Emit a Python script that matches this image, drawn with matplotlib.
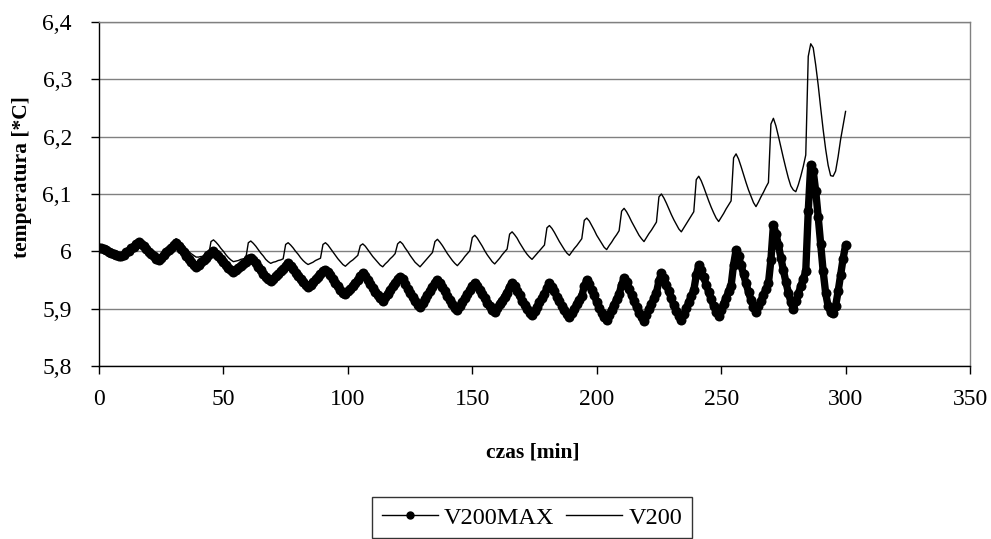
import matplotlib
matplotlib.use("Agg")
import matplotlib.pyplot as plt
from matplotlib.lines import Line2D
from matplotlib.ticker import FuncFormatter, MultipleLocator
import numpy as np

plt.rcParams['font.family'] = ['Liberation Serif', 'DejaVu Serif']

# time in minutes (one sample per minute)
czas = np.arange(0, 301, 1)

v200max = [
    6.006, 6.005, 6.004, 6.002, 5.999, 5.997, 5.995, 5.994, 5.992, 5.991, 5.994, 5.998, 6.001, 6.005, 6.008,
    6.013, 6.016, 6.013, 6.009, 6.004, 5.999, 5.995, 5.991, 5.987, 5.985, 5.989, 5.993, 5.998, 6.002, 6.006,
    6.011, 6.014, 6.010, 6.004, 5.998, 5.992, 5.986, 5.981, 5.976, 5.973, 5.977, 5.981, 5.985, 5.989, 5.993,
    5.997, 6.000, 5.996, 5.991, 5.986, 5.981, 5.976, 5.971, 5.967, 5.964, 5.968, 5.971, 5.975, 5.978, 5.982,
    5.986, 5.989, 5.985, 5.979, 5.973, 5.967, 5.961, 5.956, 5.951, 5.948, 5.952, 5.957, 5.961, 5.966, 5.970,
    5.975, 5.979, 5.975, 5.969, 5.963, 5.957, 5.951, 5.946, 5.941, 5.938, 5.942, 5.947, 5.951, 5.956, 5.960,
    5.965, 5.968, 5.964, 5.958, 5.951, 5.945, 5.939, 5.933, 5.928, 5.925, 5.930, 5.935, 5.940, 5.945, 5.950,
    5.957, 5.962, 5.957, 5.950, 5.943, 5.936, 5.929, 5.923, 5.918, 5.914, 5.920, 5.926, 5.933, 5.939, 5.945,
    5.952, 5.956, 5.951, 5.943, 5.935, 5.927, 5.920, 5.913, 5.907, 5.903, 5.910, 5.917, 5.924, 5.931, 5.938,
    5.945, 5.950, 5.945, 5.938, 5.930, 5.922, 5.915, 5.908, 5.902, 5.898, 5.905, 5.912, 5.918, 5.925, 5.932,
    5.940, 5.945, 5.940, 5.933, 5.925, 5.918, 5.910, 5.904, 5.898, 5.894, 5.901, 5.908, 5.914, 5.921, 5.928,
    5.938, 5.944, 5.939, 5.931, 5.923, 5.914, 5.907, 5.900, 5.893, 5.889, 5.896, 5.903, 5.911, 5.918, 5.925,
    5.936, 5.944, 5.938, 5.930, 5.921, 5.913, 5.905, 5.897, 5.891, 5.886, 5.893, 5.900, 5.908, 5.915, 5.922,
    5.939, 5.950, 5.943, 5.933, 5.923, 5.912, 5.902, 5.893, 5.886, 5.880, 5.889, 5.898, 5.907, 5.916, 5.925,
    5.942, 5.953, 5.946, 5.935, 5.924, 5.913, 5.903, 5.893, 5.885, 5.879, 5.889, 5.899, 5.908, 5.918, 5.928,
    5.948, 5.962, 5.954, 5.942, 5.930, 5.918, 5.906, 5.896, 5.887, 5.880, 5.890, 5.901, 5.911, 5.922, 5.932,
    5.958, 5.976, 5.967, 5.955, 5.942, 5.929, 5.916, 5.905, 5.895, 5.888, 5.898, 5.909, 5.919, 5.930, 5.940,
    5.977, 6.002, 5.991, 5.976, 5.960, 5.944, 5.929, 5.915, 5.903, 5.894, 5.904, 5.914, 5.924, 5.934, 5.944,
    5.985, 6.046, 6.031, 6.011, 5.989, 5.967, 5.947, 5.928, 5.912, 5.900, 5.913, 5.926, 5.939, 5.952, 5.965,
    6.070, 6.151, 6.140, 6.105, 6.060, 6.012, 5.965, 5.927, 5.904, 5.894, 5.893, 5.905, 5.930, 5.958, 5.987, 6.011,
]

v200 = [
    6.006, 6.005, 6.004, 6.002, 5.999, 5.997, 5.995, 5.994, 5.992, 5.991, 5.994, 5.998, 6.001, 6.005, 6.008,
    6.014, 6.017, 6.014, 6.010, 6.005, 6.000, 5.996, 5.992, 5.988, 5.986, 5.990, 5.994, 5.999, 6.003, 6.007,
    6.019, 6.022, 6.019, 6.014, 6.010, 6.005, 6.000, 5.996, 5.993, 5.990, 5.990, 5.991, 5.991, 5.992, 5.992,
    6.017, 6.020, 6.016, 6.011, 6.005, 6.000, 5.994, 5.989, 5.985, 5.982, 5.983, 5.984, 5.986, 5.987, 5.988,
    6.015, 6.018, 6.014, 6.009, 6.003, 5.997, 5.992, 5.986, 5.982, 5.979, 5.981, 5.982, 5.984, 5.985, 5.987,
    6.012, 6.015, 6.011, 6.006, 6.000, 5.995, 5.989, 5.984, 5.980, 5.977, 5.979, 5.981, 5.984, 5.986, 5.988,
    6.012, 6.015, 6.011, 6.005, 5.999, 5.993, 5.987, 5.982, 5.977, 5.974, 5.978, 5.982, 5.985, 5.989, 5.993,
    6.010, 6.013, 6.009, 6.003, 5.997, 5.991, 5.986, 5.981, 5.976, 5.973, 5.978, 5.982, 5.987, 5.991, 5.996,
    6.013, 6.017, 6.013, 6.006, 6.000, 5.993, 5.987, 5.981, 5.977, 5.973, 5.978, 5.983, 5.988, 5.993, 5.998,
    6.017, 6.021, 6.016, 6.010, 6.003, 5.996, 5.990, 5.984, 5.979, 5.975, 5.980, 5.985, 5.991, 5.996, 6.001,
    6.024, 6.028, 6.023, 6.016, 6.009, 6.001, 5.994, 5.988, 5.982, 5.978, 5.983, 5.988, 5.994, 5.999, 6.004,
    6.030, 6.034, 6.029, 6.023, 6.015, 6.008, 6.001, 5.995, 5.990, 5.986, 5.991, 5.996, 6.001, 6.006, 6.011,
    6.041, 6.045, 6.040, 6.033, 6.025, 6.017, 6.010, 6.003, 5.997, 5.993, 5.999, 6.005, 6.010, 6.016, 6.022,
    6.054, 6.058, 6.053, 6.045, 6.037, 6.028, 6.021, 6.014, 6.007, 6.003, 6.010, 6.016, 6.023, 6.029, 6.036,
    6.070, 6.075, 6.069, 6.061, 6.052, 6.044, 6.036, 6.028, 6.022, 6.017, 6.024, 6.031, 6.037, 6.044, 6.051,
    6.095, 6.100, 6.093, 6.084, 6.074, 6.064, 6.055, 6.047, 6.039, 6.034, 6.041, 6.048, 6.055, 6.062, 6.069,
    6.125, 6.131, 6.123, 6.112, 6.100, 6.088, 6.077, 6.067, 6.058, 6.052, 6.059, 6.066, 6.074, 6.081, 6.088,
    6.163, 6.170, 6.161, 6.148, 6.134, 6.120, 6.107, 6.096, 6.085, 6.078, 6.086, 6.095, 6.103, 6.112, 6.120,
    6.222, 6.232, 6.219, 6.201, 6.182, 6.163, 6.145, 6.128, 6.114, 6.107, 6.104, 6.116, 6.131, 6.148, 6.168,
    6.340, 6.362, 6.355, 6.325, 6.290, 6.250, 6.212, 6.178, 6.150, 6.132, 6.131, 6.140, 6.165, 6.195, 6.220, 6.244,
]

series_names = ["V200MAX", "V200"]
x_label = "czas [min]"
y_label = "temperatura [*C]"

fig = plt.figure(figsize=(9.91, 5.39), dpi=100)
ax = fig.add_axes([99/991, 1-366/539, 871/991, 344/539])

ax.plot(czas, v200max, color='black', lw=5.3, marker='o', ms=7.2,
        markeredgewidth=0, solid_capstyle='round', solid_joinstyle='round', zorder=3)
ax.plot(czas, v200, color='black', lw=1.0, zorder=4)

ax.set_xlim(0, 350)
ax.set_ylim(5.8, 6.4)
ax.xaxis.set_major_locator(MultipleLocator(50))
ax.yaxis.set_major_locator(MultipleLocator(0.1))

def yfmt(v, pos):
    s = '{:g}'.format(round(v, 1))
    return s.replace('.', ',')

ax.yaxis.set_major_formatter(FuncFormatter(yfmt))
ax.xaxis.set_major_formatter(FuncFormatter(lambda v, p: '{:g}'.format(v)))

ax.grid(axis='y', color='#808080', lw=1.0)
ax.set_axisbelow(True)
ax.spines['left'].set_color('black')
ax.spines['bottom'].set_color('black')
ax.spines['top'].set_color('#808080')
ax.spines['right'].set_color('#808080')
for s in ax.spines.values():
    s.set_linewidth(1.0)

ax.tick_params(axis='both', direction='out', length=5.5, width=1, labelsize=17, colors='black')
ax.tick_params(axis='x', pad=11)
ax.tick_params(axis='y', pad=14)

fig.text(22/991, 1-177/539, y_label, rotation=90, ha='center', va='center',
         fontsize=15.5, fontweight='bold')
fig.text(533/991, 1-452/539, x_label, ha='center', va='center',
         fontsize=15.5, fontweight='bold')

handles = [
    Line2D([], [], color='black', lw=1.0, marker='o', ms=5),
    Line2D([], [], color='black', lw=1.0),
]
leg = fig.legend(handles, series_names, loc='upper center',
                 bbox_to_anchor=(532/991, 1-497/539), ncol=2, frameon=True,
                 fancybox=False, fontsize=17.5, handlelength=2.3,
                 columnspacing=0.5, handletextpad=0.25, borderpad=0.4,
                 borderaxespad=0)
leg.get_frame().set_edgecolor('black')
leg.get_frame().set_linewidth(1.0)

fig.savefig("out.png", dpi=100)
